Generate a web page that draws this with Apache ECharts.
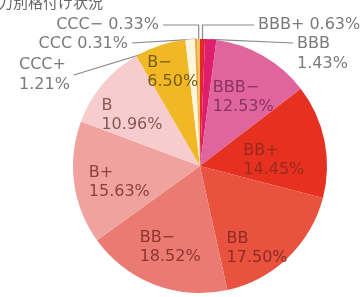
<!DOCTYPE html>
<html>
<head>
<meta charset="utf-8">
<script src="https://cdn.jsdelivr.net/npm/echarts@6/dist/echarts.min.js"></script>
<style>
  html, body { margin: 0; padding: 0; background: #fff; }
  #chart { width: 364px; height: 297px; }
</style>
</head>
<body>
<div id="chart"></div>
<script>
// rating categories, clockwise from the top
const categories = ['BBB+', 'BBB', 'BBB−', 'BB+', 'BB', 'BB−', 'B+', 'B', 'B−', 'CCC+', 'CCC', 'CCC−'];
const shares = [0.63, 1.43, 12.53, 14.45, 17.50, 18.52, 15.63, 10.96, 6.50, 1.21, 0.31, 0.33];

const sliceColors = ['#e5262e', '#df1f6c', '#e0659d', '#e63020', '#e8523f', '#eb7b72',
  '#f0a29e', '#f6cdcc', '#f0b825', '#fdf5dc', '#f2a23c', '#ecc45a'];
const insideTextColors = ['', '', '#8a3363', '#9b2a1e', '#8e2c24', '#8e3530',
  '#8a4240', '#8a5656', '#7a5c12', '', '', ''];

// small slices get labels outside, with leader lines
const outsideLabels = {
  'BBB+': { x: 258, y: 25, align: 'left', lineY: 25, elbow: true, oneLine: true },
  'BBB':  { x: 297, y: 54, align: 'left', lineY: 43, elbow: false },
  'CCC+': { x: 19, y: 75, align: 'left', lineY: 75, elbow: false },
  'CCC':  { x: 128, y: 44, align: 'right', lineY: 43, elbow: false, oneLine: true },
  'CCC−': { x: 159, y: 25, align: 'right', lineY: 25, elbow: true, oneLine: true }
};
// small shifts of the inner labels, in px
const insideNudge = {
  'BBB−': [0, 6], 'BB+': [-11, 12], 'BB': [-3, 20], 'BB−': [1, 1],
  'B+': [5, 5], 'B': [-2, 5], 'B−': [0, -12]
};

const fontFamily = 'DejaVu Sans';
const pieCenter = [200, 166];
const pieRadius = 127;

const myChart = echarts.init(document.getElementById('chart'));

const mainData = categories.map(function (name, i) {
  const out = outsideLabels[name];
  return {
    name: name,
    value: shares[i],
    itemStyle: { color: sliceColors[i] },
    label: { show: !!out },
    labelLine: { show: !!out }
  };
});

const labelData = categories.map(function (name, i) {
  return {
    name: name,
    value: shares[i],
    label: { show: !outsideLabels[name], color: insideTextColors[i] }
  };
});

const option = {
  animation: false,
  title: {
    text: '信用力別格付け状況',
    left: -37,
    top: -10,
    textStyle: { fontFamily: 'Noto Sans CJK JP', fontSize: 15, fontWeight: 'normal', color: '#666' }
  },
  series: [
    {
      type: 'pie',
      center: pieCenter,
      radius: [0, pieRadius],
      startAngle: 90,
      clockwise: true,
      avoidLabelOverlap: false,
      data: mainData,
      label: {
        position: 'outside',
        fontFamily: fontFamily,
        fontSize: 16,
        lineHeight: 20,
        color: '#7a7a7a',
        formatter: function (p) {
          const out = outsideLabels[p.name];
          return p.name + (out && out.oneLine ? ' ' : '\n') + p.value.toFixed(2) + '%';
        }
      },
      labelLine: {
        show: true,
        lineStyle: { color: '#8a8a8a', width: 1.2 }
      },
      labelLayout: function (params) {
        const pos = outsideLabels[categories[params.dataIndex]];
        if (!pos || !params.labelLinePoints) return {};
        const w = params.labelRect.width;
        const left = pos.align === 'left' ? pos.x : pos.x - w;
        const edge = params.labelLinePoints[0];
        const endX = edge[0] < left ? left - 4 : left + w + 4;
        const pts = pos.elbow
          ? [edge, [edge[0], pos.lineY], [endX, pos.lineY]]
          : [edge, [endX, pos.lineY]];
        return { x: pos.x, y: pos.y, align: pos.align, verticalAlign: 'middle', labelLinePoints: pts };
      }
    },
    {
      // transparent ring, only used to place the inner labels
      type: 'pie',
      silent: true,
      center: pieCenter,
      radius: [40, pieRadius],
      startAngle: 90,
      clockwise: true,
      avoidLabelOverlap: false,
      itemStyle: { color: 'rgba(0,0,0,0)' },
      labelLine: { show: false },
      label: {
        position: 'inside',
        fontFamily: fontFamily,
        fontSize: 16,
        lineHeight: 19,
        formatter: function (p) {
          return p.name + '\n' + p.value.toFixed(2) + '%';
        }
      },
      labelLayout: function (params) {
        const d = insideNudge[categories[params.dataIndex]] || [0, 0];
        return {
          x: params.labelRect.x + d[0],
          y: params.labelRect.y + d[1],
          align: 'left',
          verticalAlign: 'top'
        };
      },
      data: labelData
    }
  ]
};

myChart.setOption(option);
window.addEventListener('resize', function () {
  myChart.resize();
});
</script>
</body>
</html>
